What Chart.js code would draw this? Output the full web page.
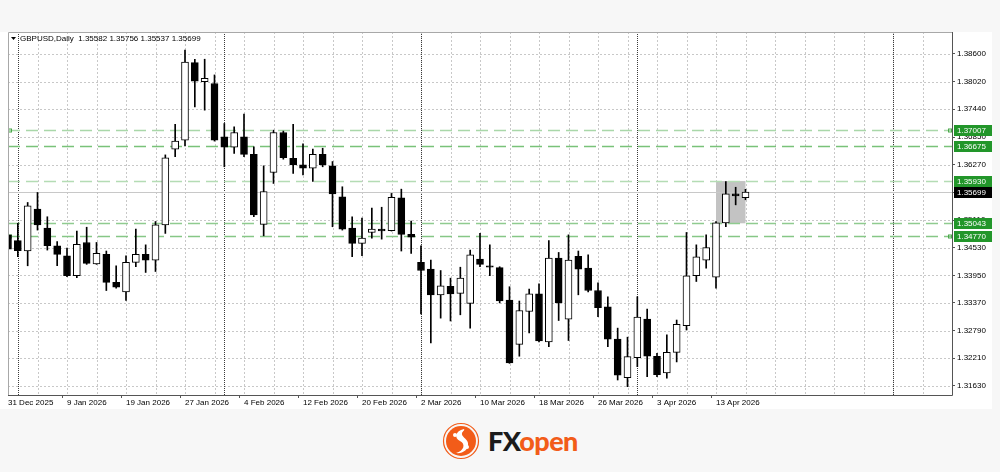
<!DOCTYPE html>
<html>
<head>
<meta charset="utf-8">
<script src="https://cdn.jsdelivr.net/npm/chart.js@4.4.1/dist/chart.umd.min.js"></script>
<style>
  html, body { margin: 0; padding: 0; background: #f7f7f7; }
  body { width: 1000px; height: 472px; position: relative; overflow: hidden; font-family: "Liberation Sans", Arial, sans-serif; }
  #win { position: absolute; left: 0; top: 32px; width: 992px; height: 377px; background: #fff; }
  #chart { position: absolute; left: 0; top: 0; }
  #logo { position: absolute; left: 442px; top: 422px; height: 38px; display: flex; align-items: center; }
  #logo .txt { font-family: Lato, "Open Sans", sans-serif; font-weight: 900; font-size: 27px; letter-spacing: -0.6px; margin-left: 8px; line-height: 38px; }
  #logo .fx { color: #1b1b1b; }
  #logo .op { color: #f25c19; }
</style>
</head>
<body>
<div id="win"></div>
<canvas id="chart" width="992" height="409"></canvas>
<div id="logo">
  <svg width="38" height="38" viewBox="0 0 38 38">
    <circle cx="19" cy="19" r="17.5" fill="none" stroke="#f25c19" stroke-width="1.2"/>
    <circle cx="19" cy="19" r="15" fill="#f25c19"/>
    <path d="M22 7 C13 9 12 16 18 19 C24 22 22 29 14 31 C20 32 27 28 26 21 C25 16 19 15 20 11 C21 9 23 8 22 7 Z" fill="#fff"/>
    <circle cx="13" cy="13" r="2" fill="#fff"/>
    <circle cx="25" cy="25" r="2" fill="#fff"/>
  </svg>
  <span class="txt"><span class="fx">FX</span><span class="op">open</span></span>
</div>
<script>
// GBPUSD daily candles, 31 Dec 2025 .. 16 Apr 2026
const dates = [
  '31 Dec 2025', '2 Jan 2026', '5 Jan 2026', '6 Jan 2026', '7 Jan 2026', '8 Jan 2026', '9 Jan 2026',
  '12 Jan 2026', '13 Jan 2026', '14 Jan 2026', '15 Jan 2026', '16 Jan 2026', '19 Jan 2026', '20 Jan 2026',
  '21 Jan 2026', '22 Jan 2026', '23 Jan 2026', '26 Jan 2026', '27 Jan 2026', '28 Jan 2026', '29 Jan 2026',
  '30 Jan 2026', '2 Feb 2026', '3 Feb 2026', '4 Feb 2026', '5 Feb 2026', '6 Feb 2026', '9 Feb 2026',
  '10 Feb 2026', '11 Feb 2026', '12 Feb 2026', '13 Feb 2026', '16 Feb 2026', '17 Feb 2026', '18 Feb 2026',
  '19 Feb 2026', '20 Feb 2026', '23 Feb 2026', '24 Feb 2026', '25 Feb 2026', '26 Feb 2026', '27 Feb 2026',
  '2 Mar 2026', '3 Mar 2026', '4 Mar 2026', '5 Mar 2026', '6 Mar 2026', '9 Mar 2026', '10 Mar 2026',
  '11 Mar 2026', '12 Mar 2026', '13 Mar 2026', '16 Mar 2026', '17 Mar 2026', '18 Mar 2026', '19 Mar 2026',
  '20 Mar 2026', '23 Mar 2026', '24 Mar 2026', '25 Mar 2026', '26 Mar 2026', '27 Mar 2026', '30 Mar 2026',
  '31 Mar 2026', '1 Apr 2026', '2 Apr 2026', '3 Apr 2026', '6 Apr 2026', '7 Apr 2026', '8 Apr 2026',
  '9 Apr 2026', '10 Apr 2026', '13 Apr 2026', '14 Apr 2026', '15 Apr 2026', '16 Apr 2026'
]
const opens = [
  1.3480, 1.3468, 1.3446, 1.3534, 1.3494, 1.3457, 1.3436, 1.3394, 1.3464, 1.3419, 1.3439, 1.3380, 1.3360,
  1.3422, 1.3439, 1.3427, 1.3501, 1.3660, 1.3679, 1.3842, 1.3802, 1.3798, 1.3686, 1.3664, 1.3686, 1.3649,
  1.3502, 1.3611, 1.3695, 1.3641, 1.3627, 1.3620, 1.3649, 1.3625, 1.3560, 1.3494, 1.3462, 1.3485, 1.3492,
  1.3489, 1.3558, 1.3481, 1.3422, 1.3408, 1.3354, 1.3372, 1.3357, 1.3336, 1.3429, 1.3415, 1.3411, 1.3343,
  1.3250, 1.3319, 1.3356, 1.3255, 1.3431, 1.3303, 1.3435, 1.3410, 1.3363, 1.3329, 1.3261, 1.3180, 1.3222,
  1.3303, 1.3225, 1.3190, 1.3233, 1.3289, 1.3394, 1.3427, 1.3391, 1.3505, 1.3566, 1.35582
]
const highs = [
  1.3486, 1.3504, 1.3548, 1.3569, 1.3518, 1.3466, 1.3452, 1.3488, 1.3496, 1.3464, 1.3446, 1.3415, 1.3436,
  1.3492, 1.3459, 1.3508, 1.3648, 1.3712, 1.3868, 1.3849, 1.3849, 1.3816, 1.3714, 1.3707, 1.3734, 1.3665,
  1.3625, 1.3700, 1.3698, 1.3712, 1.3671, 1.3660, 1.3662, 1.3634, 1.3581, 1.3518, 1.3515, 1.3536, 1.3538,
  1.3567, 1.3576, 1.3509, 1.3457, 1.3427, 1.3405, 1.3389, 1.3412, 1.3448, 1.3483, 1.3459, 1.3413, 1.3371,
  1.3341, 1.3366, 1.3377, 1.3468, 1.3443, 1.3480, 1.3446, 1.3438, 1.3379, 1.3350, 1.3284, 1.3265, 1.3350,
  1.3324, 1.3231, 1.3270, 1.3301, 1.3485, 1.3459, 1.3480, 1.3508, 1.3592, 1.3580, 1.35756
]
const lows = [
  1.3402, 1.3434, 1.3415, 1.3490, 1.3448, 1.3415, 1.3392, 1.3390, 1.3418, 1.3418, 1.3363, 1.3368, 1.3342,
  1.3413, 1.3401, 1.3403, 1.3483, 1.3644, 1.3667, 1.3749, 1.3742, 1.3677, 1.3623, 1.3651, 1.3644, 1.3518,
  1.3478, 1.3588, 1.3639, 1.3609, 1.3606, 1.3592, 1.3623, 1.3497, 1.3490, 1.3434, 1.3436, 1.3473, 1.3471,
  1.3488, 1.3446, 1.3441, 1.3314, 1.3253, 1.3305, 1.3299, 1.3312, 1.3284, 1.3413, 1.3394, 1.3337, 1.3210,
  1.3225, 1.3274, 1.3255, 1.3245, 1.3300, 1.3258, 1.3354, 1.3360, 1.3308, 1.3245, 1.3175, 1.3161, 1.3203,
  1.3182, 1.3182, 1.3179, 1.3213, 1.3280, 1.3382, 1.3410, 1.3368, 1.3497, 1.3543, 1.35537
]
const closes = [
  1.3450, 1.3447, 1.3541, 1.3501, 1.3457, 1.3439, 1.3394, 1.3460, 1.3420, 1.3441, 1.3380, 1.3370, 1.3422,
  1.3439, 1.3427, 1.3501, 1.3642, 1.3677, 1.3843, 1.3803, 1.3809, 1.3679, 1.3664, 1.3695, 1.3649, 1.3522,
  1.3571, 1.3695, 1.3642, 1.3627, 1.3620, 1.3649, 1.3627, 1.3566, 1.3492, 1.3462, 1.3473, 1.3492, 1.3488,
  1.3559, 1.3481, 1.3475, 1.3405, 1.3354, 1.3373, 1.3356, 1.3389, 1.3438, 1.3418, 1.3412, 1.3341, 1.3211,
  1.3321, 1.3356, 1.3257, 1.3431, 1.3337, 1.3427, 1.3408, 1.3363, 1.3327, 1.3261, 1.3185, 1.3224, 1.3307,
  1.3225, 1.3186, 1.3233, 1.3292, 1.3394, 1.3434, 1.3453, 1.3505, 1.3566, 1.3562, 1.35699
]

// empty slots to the right of the last bar (MT4 chart shift)
const futureSlots = 21
const priceTicks = [ 1.31630, 1.32210, 1.32790, 1.33370, 1.33950, 1.34530, 1.35110, 1.35690, 1.36270, 1.36850, 1.37440, 1.38020, 1.38600 ]
const monthStarts = [ 1, 22, 42, 64, 90 ]   // period separators (Jan, Feb, Mar, Apr, May)

// horizontal levels drawn on the chart
const levelPrices = [ 1.37007, 1.36675, 1.35930, 1.35043, 1.34770 ]
const levelColors = [ '#a9d7a9', '#79c279', '#b4dcb4', '#8fcb8f', '#86c786' ]
const bidPrice = 1.35699

// grey rectangle over the last four bars
const boxFrom = 72
const boxTo = 75
const boxHigh = 1.35930
const boxLow = 1.35043

const labels = dates.concat( new Array( futureSlots ).fill( '' ) )
const bodies = opens.map( ( o, i ) => [ Math.min( o, closes[ i ] ), Math.max( o, closes[ i ] ) ] )
const wicks = lows.map( ( l, i ) => [ l, highs[ i ] ] )
const bodyFill = opens.map( ( o, i ) => closes[ i ] >= o ? '#ffffff' : '#000000' )

const FONT = '8px "Liberation Sans", Arial, sans-serif'

const backdrop = {
  id: 'backdrop',
  beforeDatasetsDraw( chart ) {
    const { ctx, chartArea: a, scales: { x, y } } = chart
    ctx.save()
    ctx.lineWidth = 1

    // dotted grid
    ctx.strokeStyle = '#c8c8c8'
    ctx.setLineDash( [ 2, 2 ] )
    priceTicks.forEach( v => {
      const py = Math.round( y.getPixelForValue( v ) ) + 0.5
      ctx.beginPath(); ctx.moveTo( a.left, py ); ctx.lineTo( a.right, py ); ctx.stroke()
    } )
    for ( let i = 3; i < labels.length; i += 3 ) {
      const px = Math.round( x.getPixelForValue( i ) ) + 0.5
      ctx.beginPath(); ctx.moveTo( px, a.top ); ctx.lineTo( px, a.bottom ); ctx.stroke()
    }

    // month separators
    ctx.strokeStyle = '#3a3a3a'
    ctx.setLineDash( [ 1, 1 ] )
    monthStarts.forEach( i => {
      const px = Math.round( x.getPixelForValue( i ) ) + 0.5
      ctx.beginPath(); ctx.moveTo( px, a.top ); ctx.lineTo( px, a.bottom ); ctx.stroke()
    } )

    // rectangle
    ctx.setLineDash( [ ] )
    ctx.fillStyle = '#c3c3c3'
    const x0 = x.getPixelForValue( boxFrom ), x1 = x.getPixelForValue( boxTo )
    const y0 = y.getPixelForValue( boxHigh ), y1 = y.getPixelForValue( boxLow )
    ctx.fillRect( x0, y0, x1 - x0, y1 - y0 )

    // bid line
    ctx.strokeStyle = '#c8c8c8'
    let py = Math.round( y.getPixelForValue( bidPrice ) ) + 0.5
    ctx.beginPath(); ctx.moveTo( a.left, py ); ctx.lineTo( a.right, py ); ctx.stroke()

    // levels
    ctx.lineWidth = 1.6
    ctx.setLineDash( [ 12, 6 ] )
    levelPrices.forEach( ( v, i ) => {
      py = Math.round( y.getPixelForValue( v ) ) + 0.5
      ctx.strokeStyle = levelColors[ i ]
      ctx.beginPath(); ctx.moveTo( a.left, py ); ctx.lineTo( a.right, py ); ctx.stroke()
    } )
    ctx.setLineDash( [ ] )
    ctx.lineWidth = 1
    ;[ 0, 4 ].forEach( i => {
      py = Math.round( y.getPixelForValue( levelPrices[ i ] ) ) + 0.5
      ctx.strokeStyle = '#4aa84a'
      ctx.strokeRect( a.left + 0.5, py - 1.5, 3, 3 )
      ctx.strokeRect( a.right - 3.5, py - 1.5, 3, 3 )
    } )
    ctx.restore()
  },
  afterDraw( chart ) {
    const { ctx, chartArea: a, scales: { y } } = chart
    ctx.save()

    // frame
    ctx.lineWidth = 1
    ctx.strokeStyle = '#a8a8a8'
    ctx.beginPath()
    ctx.moveTo( a.left + 0.5, a.bottom ); ctx.lineTo( a.left + 0.5, a.top + 0.5 ); ctx.lineTo( a.right, a.top + 0.5 )
    ctx.stroke()
    ctx.strokeStyle = '#555'
    ctx.beginPath()
    ctx.moveTo( a.left, a.bottom + 0.5 ); ctx.lineTo( a.right + 0.5, a.bottom + 0.5 ); ctx.lineTo( a.right + 0.5, a.top )
    ctx.stroke()

    // price tags
    ctx.font = FONT
    ctx.textBaseline = 'middle'
    ctx.textAlign = 'left'
    const tag = ( v, bg ) => {
      const py = Math.round( y.getPixelForValue( v ) )
      ctx.fillStyle = bg
      ctx.fillRect( a.right + 2, py - 5, 38, 11 )
      ctx.fillStyle = '#fff'
      ctx.fillText( v.toFixed( 5 ), a.right + 5, py + 0.5 )
    }
    levelPrices.forEach( v => tag( v, '#22962a' ) )
    tag( bidPrice, '#000' )

    // title
    ctx.fillStyle = '#000'
    ctx.beginPath()
    ctx.moveTo( a.left + 3, a.top + 5 ); ctx.lineTo( a.left + 8, a.top + 5 ); ctx.lineTo( a.left + 5.5, a.top + 8 )
    ctx.fill()
    const last = opens.length - 1
    ctx.fillText( 'GBPUSD,Daily  ' + [ opens[ last ], highs[ last ], lows[ last ], closes[ last ] ].map( v => v.toFixed( 5 ) ).join( ' ' ), a.left + 12, a.top + 7 )
    ctx.restore()
  }
}

new Chart( document.getElementById( 'chart' ), {
  type: 'bar',
  data: {
    labels: labels,
    datasets: [ {
      data: bodies,
      order: 1,
      grouped: false,
      barThickness: 7,
      backgroundColor: bodyFill,
      borderColor: '#000',
      borderWidth: 1,
      borderSkipped: false,
      clip: 0
    }, {
      data: wicks,
      order: 2,
      grouped: false,
      barThickness: 1,
      backgroundColor: '#000',
      borderWidth: 0,
      clip: 0
    } ]
  },
  options: {
    responsive: false,
    animation: false,
    events: [ ],
    layout: { padding: { top: 32, left: 8, right: 0, bottom: 0 } },
    plugins: { legend: { display: false }, tooltip: { enabled: false } },
    scales: {
      x: {
        offset: false,
        grid: { drawOnChartArea: false, tickLength: 3, tickColor: ctx => ctx.index % 6 === 0 && ctx.index < dates.length ? '#555' : 'rgba(0,0,0,0)' },
        border: { display: false },
        afterFit: s => { s.height = 14 },
        ticks: {
          autoSkip: false, maxRotation: 0, minRotation: 0, align: 'start', padding: 0,
          color: '#000', font: { family: '"Liberation Sans", Arial, sans-serif', size: 8 },
          callback: ( v, i ) => i % 6 === 0 ? labels[ i ] : ''
        }
      },
      y: {
        position: 'right',
        min: 1.31435,
        max: 1.39062,
        grid: { drawOnChartArea: false, tickLength: 3, tickColor: '#555' },
        border: { display: false },
        afterFit: s => { s.width = 40 },
        afterBuildTicks: s => { s.ticks = priceTicks.map( v => ( { value: v } ) ) },
        ticks: {
          padding: 2, color: '#000', font: { family: '"Liberation Sans", Arial, sans-serif', size: 8 },
          callback: v => v.toFixed( 5 )
        }
      }
    }
  },
  plugins: [ backdrop ]
} )
</script>
</body>
</html>
